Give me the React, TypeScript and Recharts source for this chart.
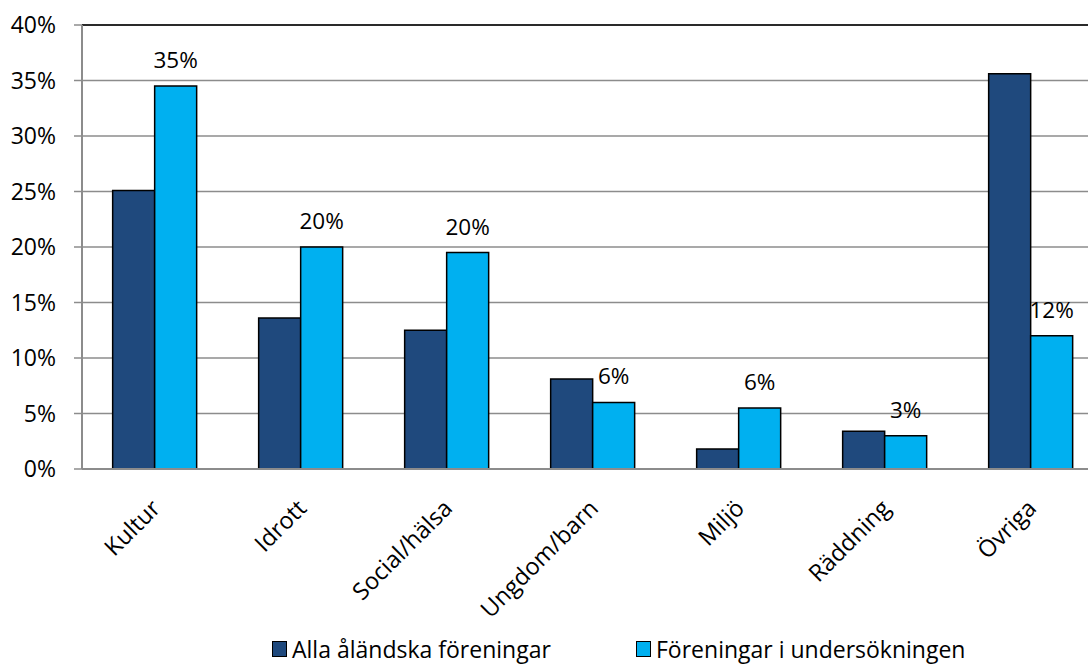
import React from 'react';
import { BarChart, Bar, XAxis, YAxis, CartesianGrid, ReferenceLine, LabelList } from 'recharts';

const categories = ['Kultur', 'Idrott', 'Social/hälsa', 'Ungdom/barn', 'Miljö', 'Räddning', 'Övriga'];
const allaValues = [25.1, 13.6, 12.5, 8.1, 1.8, 3.4, 35.6];
const undersokningValues = [34.5, 20.0, 19.5, 6.0, 5.5, 3.0, 12.0];
const yTicks = [0, 5, 10, 15, 20, 25, 30, 35, 40];
const seriesNames = ['Alla åländska föreningar', 'Föreningar i undersökningen'];

const data = categories.map((c, i) => ({ name: c, alla: allaValues[i], unders: undersokningValues[i] }));

const FONT = '"Open Sans", sans-serif';
const DARK = '#1F497D';
const LIGHT = '#00B0F0';

const XTick = (props: any) => {
  const { x, y, payload } = props;
  return (
    <text
      transform={`translate(${x + 1},${y + 27}) rotate(-45)`}
      textAnchor="end"
      dy="0.35em"
      fontFamily={FONT}
      fontSize={23.5}
      fill="#000"
    >
      {payload.value}
    </text>
  );
};

const TopLabel = (props: any) => {
  const { x, y, width, value } = props;
  return (
    <text x={x + width / 2} y={y - 18} textAnchor="middle" fontFamily={FONT} fontSize={22.5} fill="#000">
      {Math.round(value)}%
    </text>
  );
};

export default function App() {
  return (
    <div style={{ position: 'fixed', left: 0, top: 0, width: 1088, height: 664, overflow: 'hidden', background: '#fff' }}>
      <BarChart
        width={1110}
        height={664}
        data={data}
        margin={{ top: 25, right: 6, left: 0, bottom: 45 }}
        barCategoryGap="21%"
        barGap={0}
      >
        <CartesianGrid vertical={false} stroke="#8c8c8c" strokeWidth={1.5} />
        <XAxis
          dataKey="name"
          height={150}
          tickLine={false}
          axisLine={{ stroke: '#8c8c8c', strokeWidth: 2 }}
          tick={<XTick />}
          interval={0}
        />
        <YAxis
          width={82}
          domain={[0, 40]}
          ticks={yTicks}
          tickFormatter={(v: number) => `${v}%`}
          tickSize={8}
          tickMargin={18}
          tickLine={{ stroke: '#8c8c8c', strokeWidth: 1.5 }}
          axisLine={{ stroke: '#8c8c8c', strokeWidth: 2 }}
          tick={{ fill: '#000', fontFamily: FONT, fontSize: 23 }}
          interval={0}
        />
        <ReferenceLine y={40} stroke="#000" strokeWidth={1.5} />
        <Bar dataKey="alla" fill={DARK} stroke="#000" strokeWidth={1.5} isAnimationActive={false} />
        <Bar dataKey="unders" fill={LIGHT} stroke="#000" strokeWidth={1.5} isAnimationActive={false}>
          <LabelList dataKey="unders" content={<TopLabel />} />
        </Bar>
      </BarChart>
      <div style={{ position: 'absolute', left: 272, top: 634, display: 'flex', alignItems: 'center', fontFamily: FONT, fontSize: 23, color: '#000', whiteSpace: 'nowrap', lineHeight: '30px' }}>
        <span style={{ display: 'inline-block', width: 13, height: 14, background: DARK, border: '1.5px solid #000', marginRight: 5 }} />
        <span>{seriesNames[0]}</span>
      </div>
      <div style={{ position: 'absolute', left: 636, top: 634, display: 'flex', alignItems: 'center', fontFamily: FONT, fontSize: 23, color: '#000', whiteSpace: 'nowrap', lineHeight: '30px' }}>
        <span style={{ display: 'inline-block', width: 13, height: 14, background: LIGHT, border: '1.5px solid #000', marginRight: 5 }} />
        <span>{seriesNames[1]}</span>
      </div>
    </div>
  );
}
